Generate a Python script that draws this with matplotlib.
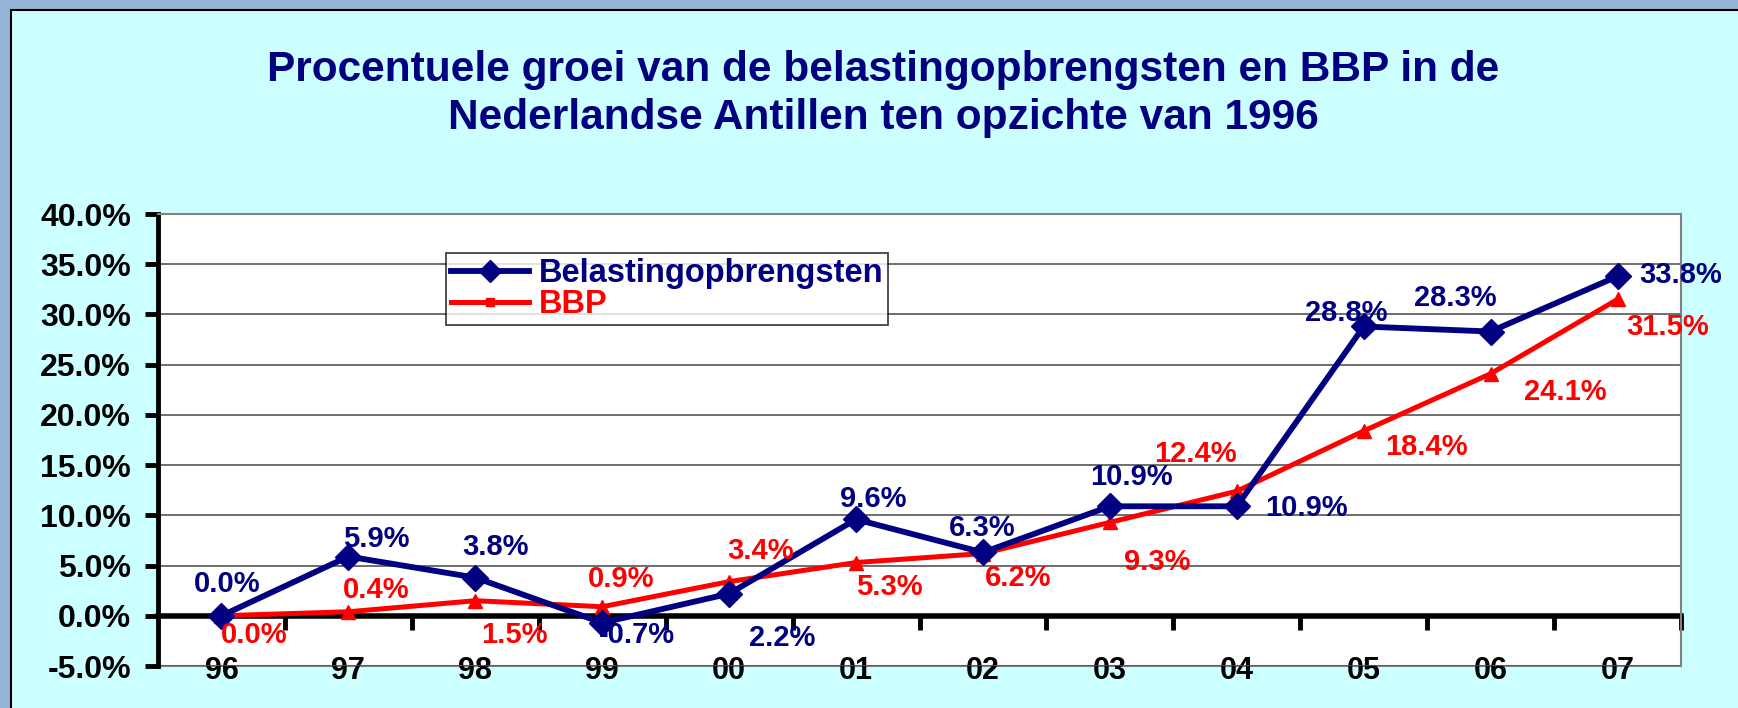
import matplotlib.pyplot as plt
from matplotlib.lines import Line2D
from matplotlib.patches import Rectangle

plt.rcParams['font.family'] = ['Liberation Sans', 'DejaVu Sans']
plt.rcParams['font.weight'] = 'bold'

# data
years = ['96', '97', '98', '99', '00', '01', '02', '03', '04', '05', '06', '07']
belasting = [0.0, 5.9, 3.8, -0.7, 2.2, 9.6, 6.3, 10.9, 10.9, 28.8, 28.3, 33.8]
bbp = [0.0, 0.4, 1.5, 0.9, 3.4, 5.3, 6.2, 9.3, 12.4, 18.4, 24.1, 31.5]

# label offsets in pixels (dx, dy)
off_bel = [(6, 32), (28, 18), (20, 31), (35, -12), (53, -44), (17, 20),
           (-1, 24), (22, 29), (70, -2), (-17, 13), (-35, 34), (63, 1)]
off_bbp = [(33, -19), (28, 22), (39, -34), (19, 28), (31, 31), (33, -24),
           (35, -24), (47, -40), (-41, 37), (63, -16), (75, -18), (50, -28)]

navy = '#000080'
red = '#FF0000'

fig = plt.figure(figsize=(17.38, 7.08), dpi=100)
fig.patch.set_facecolor('#95B3D7')
bg = Rectangle((11 / 1738, -0.01), 1.0, 1 - 10 / 708 + 0.01,
               transform=fig.transFigure, facecolor='#CCFFFF',
               edgecolor='black', linewidth=1.5, zorder=-1)
fig.add_artist(bg)

fig.text(0.508, 0.867, 'Procentuele groei van de belastingopbrengsten en BBP in de\n'
         'Nederlandse Antillen ten opzichte van 1996',
         ha='center', va='center', color=navy, fontsize=30.5, fontweight='bold',
         linespacing=1.25)

ax = fig.add_axes([158 / 1738, 1 - 666 / 708, 1523 / 1738, 452 / 708])
ax.set_zorder(1)
ax.set_facecolor('white')

x = list(range(len(years)))
ax.plot(x, bbp, color=red, linewidth=3.6, marker='^', markersize=10, zorder=3)
ax.plot(x, belasting, color=navy, linewidth=4.2, marker='D', markersize=13, zorder=4)

for i in x:
    ax.annotate(f'{belasting[i]:.1f}%', (i, belasting[i]), xytext=off_bel[i],
                textcoords='offset pixels', ha='center', va='center',
                color=navy, fontsize=21, fontweight='bold', zorder=5)
    ax.annotate(f'{bbp[i]:.1f}%', (i, bbp[i]), xytext=off_bbp[i],
                textcoords='offset pixels', ha='center', va='center',
                color=red, fontsize=21, fontweight='bold', zorder=5)

ax.set_xlim(-0.5, len(years) - 0.5)
ax.set_ylim(-5, 40)
ax.set_yticks(range(-5, 41, 5))
ax.set_yticklabels([f'{v:.1f}%' for v in range(-5, 41, 5)])
ax.yaxis.grid(True, color='#555555', linewidth=1.2)
ax.set_axisbelow(True)

ax.spines['bottom'].set_position(('data', 0))
ax.spines['bottom'].set_linewidth(4)
ax.spines['bottom'].set_color('black')
ax.spines['bottom'].set_zorder(2)
ax.spines['left'].set_linewidth(3.5)
ax.spines['left'].set_color('black')
for s in ['top', 'right']:
    ax.spines[s].set_color('#808080')
    ax.spines[s].set_linewidth(1.5)
ax.axhline(-5, color='#808080', linewidth=1.5, clip_on=False, zorder=0.3)

ax.set_xticks(x)
ax.set_xticklabels(years)
ax.set_xticks([i + 0.5 for i in x], minor=True)
ax.tick_params(axis='x', which='major', length=0, pad=29, labelsize=22)
ax.tick_params(axis='x', which='minor', length=10, width=3.5, direction='out')
ax.tick_params(axis='y', length=9.5, width=3.5, direction='out', labelsize=23, pad=10)

handles = [Line2D([], [], color=navy, linewidth=4.2, marker='D', markersize=11),
           Line2D([], [], color=red, linewidth=3.6, marker='s', markersize=6)]
leg = ax.legend(handles, ['Belastingopbrengsten', 'BBP'], loc='upper left',
                bbox_to_anchor=(0.189, 0.913), fontsize=23.5, frameon=True,
                fancybox=False, edgecolor='black', handlelength=2.4,
                labelspacing=0.0, borderpad=0.15, handletextpad=0.3,
                borderaxespad=0)
leg.get_frame().set_linewidth(1.2)
for t, c in zip(leg.get_texts(), [navy, red]):
    t.set_color(c)
    t.set_fontweight('bold')

fig.savefig('out.png', dpi=100)
